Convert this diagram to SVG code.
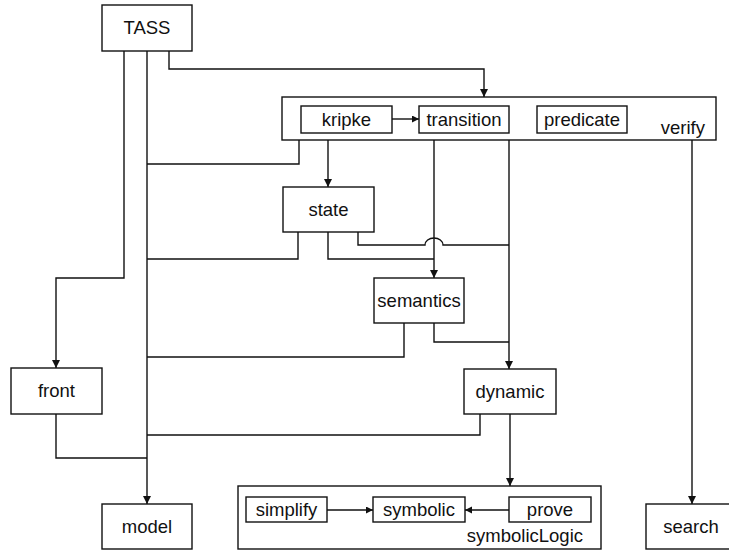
<svg xmlns="http://www.w3.org/2000/svg" width="729" height="550" viewBox="0 0 729 550">
<style>
.box{fill:#fff;stroke:#111;stroke-width:1.4}
.lbl{font-family:"Liberation Sans",Arial,sans-serif;font-size:18.5px;fill:#111;text-anchor:middle}
.cl{font-family:"Liberation Sans",Arial,sans-serif;font-size:18.5px;fill:#111;text-anchor:end}
.e{fill:none;stroke:#111;stroke-width:1.4}
</style>
<defs>
<marker id="ah" markerWidth="8" markerHeight="10" refX="8" refY="4" orient="auto" markerUnits="userSpaceOnUse">
<path d="M0,0 L8,4 L0,8 z" fill="#111"/>
</marker>
<marker id="as" markerWidth="8" markerHeight="8" refX="7" refY="3.5" orient="auto" markerUnits="userSpaceOnUse">
<path d="M0,0 L7,3.5 L0,7 z" fill="#111"/>
</marker>
</defs>
<rect width="729" height="550" fill="#fff"/>
<g id="verify"><rect class="box" x="282" y="97" width="434" height="43"/><text class="cl" x="705" y="134">verify</text></g>
<g id="symbolicLogic"><rect class="box" x="238" y="486" width="363" height="63"/><text class="cl" x="583" y="542">symbolicLogic</text></g>
<g id="edges">
<path class="e" d="M169,51 V69 H484 V97" marker-end="url(#ah)"/>
<path class="e" d="M147,51 V504" marker-end="url(#ah)"/>
<path class="e" d="M124,51 V278 H56 V368" marker-end="url(#ah)"/>
<path class="e" d="M299,140 V164 H147"/>
<path class="e" d="M328,140 V187" marker-end="url(#ah)"/>
<path class="e" d="M434,140 V278" marker-end="url(#ah)"/>
<path class="e" d="M509,140 V369" marker-end="url(#ah)"/>
<path class="e" d="M692,140 V504" marker-end="url(#ah)"/>
<path class="e" d="M298,232 V259 H147"/>
<path class="e" d="M328,232 V259 H434"/>
<path class="e" d="M358,232 V245 H425 A9,7 0 0 1 443,245 H509"/>
<path class="e" d="M404,323 V357 H147"/>
<path class="e" d="M434,323 V342 H509"/>
<path class="e" d="M56,414 V458 H147"/>
<path class="e" d="M480,414 V435 H147"/>
<path class="e" d="M510,414 V486" marker-end="url(#ah)"/>
<path class="e" d="M392,119 H419" marker-end="url(#as)"/>
<path class="e" d="M327,510 H373" marker-end="url(#as)"/>
<path class="e" d="M509,510 H465" marker-end="url(#as)"/>
</g>
<g id="TASS"><rect class="box" x="102" y="5" width="90" height="46"/><text class="lbl" x="147" y="34">TASS</text></g>
<g id="kripke"><rect class="box" x="301" y="106" width="91" height="27"/><text class="lbl" x="346.5" y="126">kripke</text></g>
<g id="transition"><rect class="box" x="419" y="106" width="90" height="27"/><text class="lbl" x="464" y="126">transition</text></g>
<g id="predicate"><rect class="box" x="537" y="106" width="90" height="27"/><text class="lbl" x="582" y="126">predicate</text></g>
<g id="state"><rect class="box" x="283" y="187" width="91" height="45"/><text class="lbl" x="328.5" y="216">state</text></g>
<g id="semantics"><rect class="box" x="374" y="278" width="90" height="45"/><text class="lbl" x="419" y="307">semantics</text></g>
<g id="front"><rect class="box" x="11" y="368" width="91" height="46"/><text class="lbl" x="56.5" y="397">front</text></g>
<g id="dynamic"><rect class="box" x="464" y="369" width="92" height="45"/><text class="lbl" x="510" y="398">dynamic</text></g>
<g id="model"><rect class="box" x="102" y="504" width="90" height="45"/><text class="lbl" x="147" y="533">model</text></g>
<g id="search"><rect class="box" x="646" y="504" width="91" height="45"/><text class="lbl" x="691" y="533">search</text></g>
<g id="simplify"><rect class="box" x="246" y="497" width="81" height="25"/><text class="lbl" x="286.5" y="516">simplify</text></g>
<g id="symbolic"><rect class="box" x="373" y="497" width="92" height="25"/><text class="lbl" x="419" y="516">symbolic</text></g>
<g id="prove"><rect class="box" x="509" y="497" width="82" height="25"/><text class="lbl" x="550" y="516">prove</text></g>
</svg>
